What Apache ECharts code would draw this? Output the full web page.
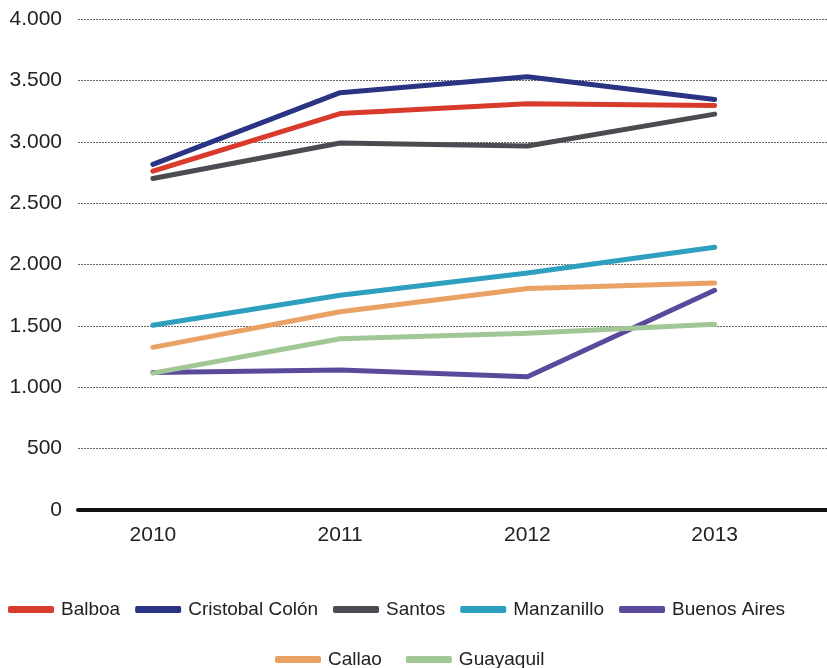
<!DOCTYPE html>
<html>
<head>
<meta charset="utf-8">
<script src="https://cdn.jsdelivr.net/npm/echarts@6/dist/echarts.min.js"></script>
<style>
  html, body { margin: 0; padding: 0; background: #fff; }
  #main { width: 827px; height: 668px; }
</style>
</head>
<body>
<div id="main"></div>
<script>
var years = [2010, 2011, 2012, 2013];
var yTicks = [0, 500, 1000, 1500, 2000, 2500, 3000, 3500, 4000];

var balboa = [2760, 3230, 3310, 3295];
var colon = [2815, 3400, 3530, 3345];
var santos = [2700, 2990, 2965, 3225];
var manzanillo = [1505, 1750, 1930, 2140];
var buenosAires = [1120, 1140, 1085, 1790];
var callao = [1325, 1615, 1805, 1850];
var guayaquil = [1115, 1395, 1440, 1513];

var names = ['Balboa', 'Cristobal Colón', 'Santos', 'Manzanillo', 'Buenos Aires', 'Callao', 'Guayaquil'];
var values = [balboa, colon, santos, manzanillo, buenosAires, callao, guayaquil];
var colors = ['#d83b2c', '#2a3483', '#4b4b52', '#2e9fbe', '#5b4a9c', '#e9a263', '#a2c796'];

var font = 'Liberation Sans, Arial, sans-serif';

var myChart = echarts.init(document.getElementById('main'));

var series = [];
for (var i = 0; i < names.length; i++) {
    var pts = [];
    for (var j = 0; j < years.length; j++) {
        pts.push([years[j], values[i][j]]);
    }
    series.push({
        name: names[i],
        type: 'line',
        data: pts,
        symbol: 'none',
        lineStyle: { width: 5, color: colors[i], cap: 'round', join: 'round' },
        itemStyle: { color: colors[i] }
    });
}

var legendText = { fontSize: 19, color: '#222', fontFamily: font, padding: [0, 0, 0, 2] };

var option = {
    backgroundColor: '#fff',
    animation: false,
    textStyle: { fontFamily: font },
    grid: { left: 78, right: 0, top: 19, bottom: 158 },
    legend: [
        {
            data: names.slice(0, 5),
            left: 3, top: 595,
            itemWidth: 46, itemHeight: 7, itemGap: 15,
            icon: 'roundRect',
            textStyle: legendText
        },
        {
            data: names.slice(5),
            left: 270, top: 645,
            itemWidth: 46, itemHeight: 7, itemGap: 24,
            icon: 'roundRect',
            textStyle: legendText
        }
    ],
    xAxis: {
        type: 'value',
        min: 2009.6,
        max: 2013.6,
        axisLine: { show: true, onZero: true, lineStyle: { color: '#111', width: 4 } },
        axisTick: { show: false },
        splitLine: { show: false },
        axisLabel: {
            customValues: years,
            fontSize: 21, color: '#222', margin: 15,
            formatter: function (v) { return String(v); }
        }
    },
    yAxis: {
        type: 'value',
        min: yTicks[0],
        max: yTicks[yTicks.length - 1],
        interval: 500,
        axisLine: { show: false },
        axisTick: { show: false },
        axisLabel: {
            fontSize: 21, color: '#222', margin: 16,
            formatter: function (v) {
                return v >= 1000 ? Math.floor(v / 1000) + '.' + String(v % 1000).padStart(3, '0') : String(v);
            }
        },
        splitLine: { show: true, lineStyle: { color: '#666', type: [2, 1], width: 1.2 } }
    },
    series: series
};

myChart.setOption(option);
</script>
</body>
</html>
